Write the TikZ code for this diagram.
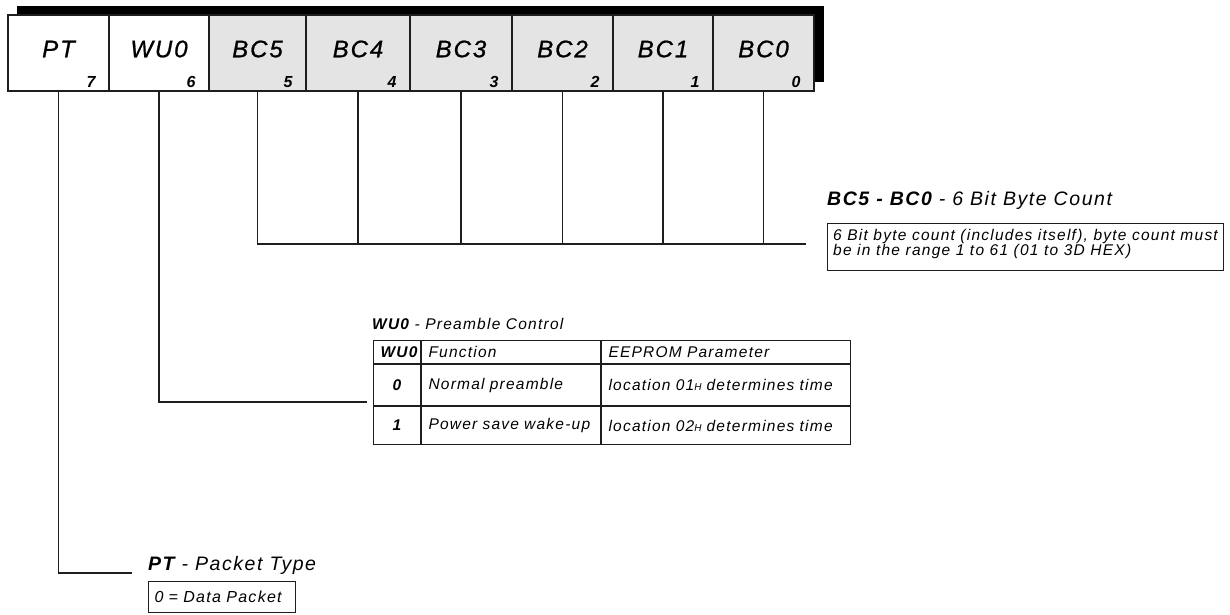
\documentclass[tikz,border=0pt]{standalone}
\usepackage{fontspec}
\setmainfont{Liberation Sans}[LetterSpace=8]
\newfontfamily\namefont{Liberation Sans}[LetterSpace=8, FakeBold=0.8]
\usepackage{tikz}
\newcommand\BI[1]{\textbf{\textit{#1}}}
\newcommand\HX{{\fontsize{10}{10}\selectfont H}}
\definecolor{cell_gray}{RGB}{228,228,228}
\definecolor{edge_dark}{RGB}{30,30,30}

\begin{document}
\begin{tikzpicture}[x=1pt,y=-1pt]
    \tikzstyle{regcell}=[draw=edge_dark, line width=1.3pt, fill=white, minimum height=76pt, inner sep=0pt]
    \tikzstyle{regcellbc}=[style=regcell, fill=cell_gray]
    \tikzstyle{fieldname}=[inner sep=0pt, font=\fontsize{24}{24}\namefont\itshape]
    \tikzstyle{bitno}=[inner sep=0pt, anchor=south east, font=\fontsize{16}{16}\selectfont\bfseries\itshape]
    \tikzstyle{wire}=[draw=edge_dark, line width=1.2pt]
    \tikzstyle{headline}=[inner sep=0pt, anchor=base west, font=\fontsize{19.5}{19.5}\selectfont\itshape]
    \tikzstyle{headsmall}=[style=headline, font=\fontsize{15.5}{15.5}\selectfont\itshape]
    \tikzstyle{textbox}=[draw=edge_dark, line width=1pt, anchor=north west, inner xsep=6pt, align=left]
    \tikzstyle{tcell}=[draw=edge_dark, line width=1pt, anchor=north west, inner xsep=7pt, inner ysep=0pt, font=\fontsize{15.5}{15.5}\selectfont\itshape]
    \tikzstyle{tcolA}=[text width=33pt, align=center]
    \tikzstyle{tcolB}=[text width=165pt, align=left]
    \tikzstyle{tcolC}=[text width=235pt, align=left]

    \useasboundingbox (0,0) rectangle (1230,614);

    % register with its shadow
    \fill[black] (17,6) rectangle (824,82);
    \node[regcell,   minimum width=101pt] (PT)  at (58.5,53)  {};
    \node[regcell,   minimum width=100pt] (WU0) at (159,53)   {};
    \node[regcellbc, minimum width=97pt]  (BC5) at (257.5,53) {};
    \node[regcellbc, minimum width=104pt] (BC4) at (358,53)   {};
    \node[regcellbc, minimum width=102pt] (BC3) at (461,53)   {};
    \node[regcellbc, minimum width=101pt] (BC2) at (562.5,53) {};
    \node[regcellbc, minimum width=100pt] (BC1) at (663,53)   {};
    \node[regcellbc, minimum width=101pt] (BC0) at (763.5,53) {};

    \node[fieldname] at ([yshift=4pt]PT.center)  {PT};
    \node[fieldname] at ([yshift=4pt]WU0.center) {WU0};
    \node[fieldname] at ([yshift=4pt]BC5.center) {BC5};
    \node[fieldname] at ([yshift=4pt]BC4.center) {BC4};
    \node[fieldname] at ([yshift=4pt]BC3.center) {BC3};
    \node[fieldname] at ([yshift=4pt]BC2.center) {BC2};
    \node[fieldname] at ([yshift=4pt]BC1.center) {BC1};
    \node[fieldname] at ([yshift=4pt]BC0.center) {BC0};

    \node[bitno] at ([shift={(-14pt,4pt)}]PT.south east)  {7};
    \node[bitno] at ([shift={(-14pt,4pt)}]WU0.south east) {6};
    \node[bitno] at ([shift={(-14pt,4pt)}]BC5.south east) {5};
    \node[bitno] at ([shift={(-14pt,4pt)}]BC4.south east) {4};
    \node[bitno] at ([shift={(-14pt,4pt)}]BC3.south east) {3};
    \node[bitno] at ([shift={(-14pt,4pt)}]BC2.south east) {2};
    \node[bitno] at ([shift={(-14pt,4pt)}]BC1.south east) {1};
    \node[bitno] at ([shift={(-14pt,4pt)}]BC0.south east) {0};

    % BC5 - BC0
    \node[headline] (bctitle) at (827,205) {\BI{BC5 - BC0} - 6 Bit Byte Count};
    \node[textbox, minimum width=396pt, minimum height=47pt] (bcbox) at (827,223) {};
    \node[anchor=north west, inner sep=0pt, align=left, font=\fontsize{15.5}{13.5}\selectfont\itshape]
      at ([shift={(6pt,-6pt)}]bcbox.north west)
      {6 Bit byte count (includes itself), byte count must\\be in the range 1 to 61 (01 to 3D HEX)};

    % WU0
    \node[headsmall] (wutitle) at (372,329) {\BI{WU0} - Preamble Control};
    \node[tcell, tcolA, minimum height=23pt] (h0) at (373,340)     {\BI{WU0}};
    \node[tcell, tcolB, minimum height=23pt] (h1) at (h0.north east) {Function};
    \node[tcell, tcolC, minimum height=23pt] (h2) at (h1.north east) {EEPROM Parameter};
    \node[tcell, tcolA, minimum height=41pt] (a0) at (h0.south west) {\BI{0}};
    \node[tcell, tcolB, minimum height=41pt] (a1) at (a0.north east) {Normal preamble};
    \node[tcell, tcolC, minimum height=41pt] (a2) at (a1.north east) {location 01\HX{} determines time};
    \node[tcell, tcolA, minimum height=38pt] (b0) at (a0.south west) {\BI{1}};
    \node[tcell, tcolB, minimum height=38pt] (b1) at (b0.north east) {Power save wake-up};
    \node[tcell, tcolC, minimum height=38pt] (b2) at (b1.north east) {location 02\HX{} determines time};

    % PT
    \node[headline] (pttitle) at (148,570) {\BI{PT} - Packet Type};
    \node[textbox, text width=135pt, minimum height=31pt, font=\fontsize{16}{16}\selectfont\itshape] (ptbox) at (148,581) {0 = Data Packet};

    % connectors
    \coordinate (ptend) at (132,573);
    \coordinate (wuend) at (367,402);
    \coordinate (bcend) at (806,244);
    \draw[wire] (PT.south)  |- (ptend);
    \draw[wire] (WU0.south) |- (wuend);
    \draw[wire] (BC5.south) |- (bcend);
    \draw[wire] (BC4.south) -- (BC4.south |- bcend);
    \draw[wire] (BC3.south) -- (BC3.south |- bcend);
    \draw[wire] (BC2.south) -- (BC2.south |- bcend);
    \draw[wire] (BC1.south) -- (BC1.south |- bcend);
    \draw[wire] (BC0.south) -- (BC0.south |- bcend);
\end{tikzpicture}
\end{document}
